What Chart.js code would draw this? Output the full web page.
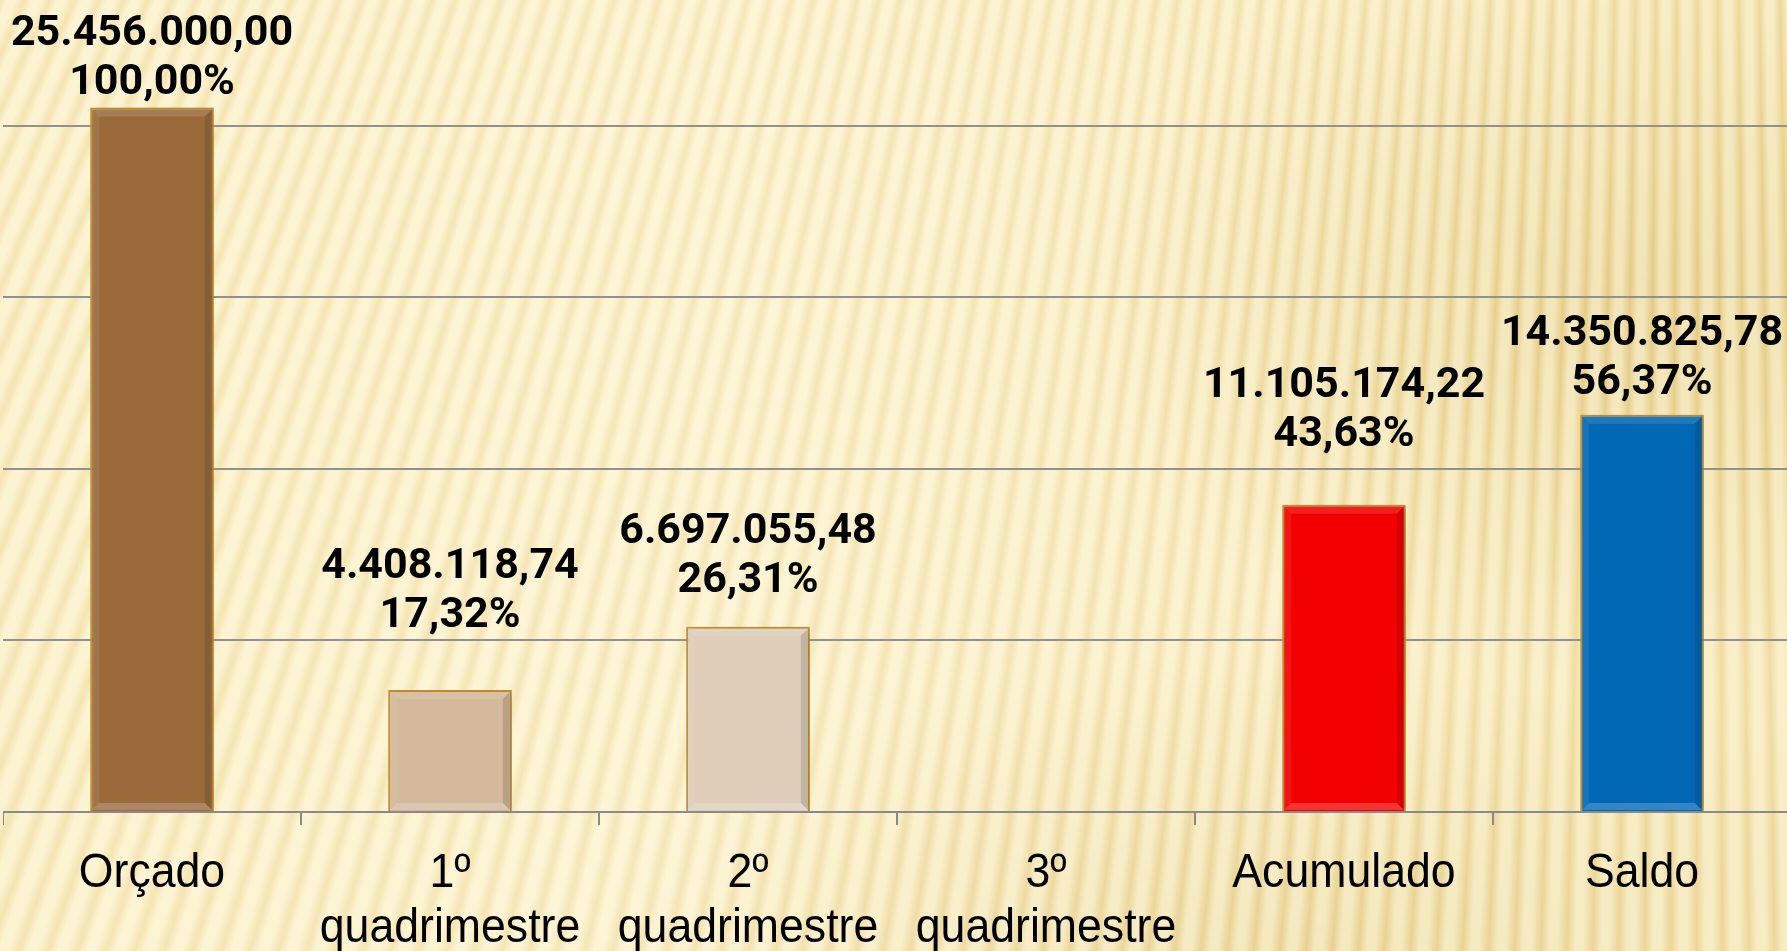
<!DOCTYPE html>
<html>
<head>
<meta charset="utf-8">
<script src="https://cdn.jsdelivr.net/npm/chart.js@4"></script>
<style>
  html, body {
    margin: 0;
    width: 1787px;
    height: 951px;
    overflow: hidden;
  }
  body {
    position: relative;
    background:
      repeating-conic-gradient(from 0deg at 1700px -3700px, rgba(255, 252, 232, 0.5) 0deg, rgba(255, 252, 232, 0.5) 0.1deg, rgba(215, 185, 105, 0.13) 0.2deg, rgba(255, 252, 232, 0.5) 0.32deg),
      radial-gradient(ellipse 560px 380px at 1640px 300px, rgba(212, 178, 92, 0.45), rgba(212, 178, 92, 0) 100%),
      radial-gradient(ellipse 700px 300px at 1300px 951px, rgba(212, 178, 92, 0.35), rgba(212, 178, 92, 0) 100%),
      linear-gradient(90deg, #f9eabb 0%, #faedc3 40%, #f3e1a8 100%);
  }
  #wrap {
    position: absolute;
    left: 3px;
    top: -46px;
    width: 1788px;
    height: 1011px;
  }
</style>
</head>
<body>
<div id="wrap"><canvas id="myChart"></canvas></div>
<script>
// categorias (eixo x)
var categories = [['Orçado'], ['1º', 'quadrimestre'], ['2º', 'quadrimestre'], ['3º', 'quadrimestre'], ['Acumulado'], ['Saldo']];
// valores em R$
var values = [25456000.00, 4408118.74, 6697055.48, null, 11105174.22, 14350825.78];
// percentuais sobre o orçado
var percents = ['100,00%', '17,32%', '26,31%', '', '43,63%', '56,37%'];
var valueLabels = ['25.456.000,00', '4.408.118,74', '6.697.055,48', '', '11.105.174,22', '14.350.825,78'];

var barColors = ['#9a6a3b', '#d3b89b', '#ddcdb9', '#ddcdb9', '#f20000', '#0068b4'];
var gridStep = 6200000;

// two-line labels over each bar
var barLabels = {
  id: 'barLabels',
  afterDatasetsDraw: function(chart, args, opts) {
    var ctx = chart.ctx;
    var meta = chart.getDatasetMeta(0);
    ctx.save();
    ctx.fillStyle = '#000';
    ctx.font = 'bold 43px Roboto';
    ctx.textAlign = 'center';
    ctx.textBaseline = 'alphabetic';
    meta.data.forEach(function(bar, i) {
      if (values[i] == null) return;
      var y = bar.y - opts.lift[i];
      ctx.fillText(percents[i], bar.x, y);
      ctx.fillText(valueLabels[i], bar.x, y - 49);
    });
    ctx.restore();
  }
};

// category names, a bit narrow like the original
var xLabels = {
  id: 'xLabels',
  afterDraw: function(chart) {
    var ctx = chart.ctx;
    var xs = chart.scales.x;
    var base = chart.chartArea.bottom;
    ctx.save();
    ctx.fillStyle = '#000';
    ctx.font = '48px "Liberation Sans", Arial';
    ctx.textAlign = 'center';
    ctx.textBaseline = 'alphabetic';
    categories.forEach(function(lines, i) {
      var x = xs.getPixelForValue(i);
      lines.forEach(function(txt, k) {
        ctx.save();
        ctx.translate(x, base + 75 + k * 55);
        ctx.scale(0.93, 1);
        ctx.fillText(txt, 0, 0);
        ctx.restore();
      });
    });
    ctx.restore();
  }
};

// bevel look on the bars
var bevel = {
  id: 'bevel',
  afterDatasetsDraw: function(chart) {
    var ctx = chart.ctx;
    var meta = chart.getDatasetMeta(0);
    var d = 7;
    function band(pts, fill) {
      ctx.fillStyle = fill;
      ctx.beginPath();
      ctx.moveTo(pts[0], pts[1]);
      for (var k = 2; k < pts.length; k += 2) ctx.lineTo(pts[k], pts[k + 1]);
      ctx.closePath();
      ctx.fill();
    }
    ctx.save();
    meta.data.forEach(function(bar, i) {
      if (values[i] == null) return;
      var l = bar.x - bar.width / 2 + 2, r = bar.x + bar.width / 2 - 2;
      var t = bar.y + 2, b = bar.base - 1;
      band([l, t, r, t, r - d, t + d, l + d, t + d], 'rgba(255,255,255,0.12)');
      band([l, t, l + d, t + d, l + d, b - d, l, b], 'rgba(255,255,255,0.08)');
      band([r, t, r, b, r - d, b - d, r - d, t + d], 'rgba(0,0,0,0.12)');
      band([l, b, l + d, b - d, r - d, b - d, r, b], 'rgba(255,255,255,0.2)');
    });
    ctx.restore();
  }
};

var shadow = {
  id: 'shadow',
  beforeDatasetsDraw: function(chart) {
    var ctx = chart.ctx;
    ctx.save();
    ctx.shadowColor = 'rgba(110, 80, 20, 0.35)';
    ctx.shadowBlur = 8;
    ctx.shadowOffsetX = 4;
    ctx.shadowOffsetY = 1;
  },
  afterDatasetsDraw: function(chart) {
    chart.ctx.restore();
  }
};

var ctx = document.getElementById('myChart').getContext('2d');

var myChart = new Chart(ctx, {
  type: 'bar',
  data: {
    labels: categories,
    datasets: [{
      data: values,
      backgroundColor: barColors,
      borderColor: '#c8913a',
      borderWidth: 2,
      barPercentage: 0.83,
      categoryPercentage: 0.5
    }]
  },
  options: {
    maintainAspectRatio: false,
    responsive: true,
    animation: false,
    layout: { padding: { top: 0, left: 0, right: 0, bottom: 140 } },
    plugins: {
      legend: { display: false },
      tooltip: { enabled: false },
      barLabels: { lift: [13, 63, 35, 0, 59, 21] }
    },
    scales: {
      x: {
        grid: {
          drawOnChartArea: false,
          drawTicks: true,
          tickLength: 13,
          color: '#8a8a8a',
          lineWidth: 2
        },
        border: { color: '#8a8a8a', width: 2 },
        ticks: { display: false }
      },
      y: {
        min: 0,
        max: 5 * gridStep,
        grid: { color: '#919191', lineWidth: 2, drawTicks: false },
        border: { display: false },
        ticks: { display: false, stepSize: gridStep }
      }
    }
  },
  plugins: [shadow, bevel, barLabels, xLabels]
});
</script>
</body>
</html>
